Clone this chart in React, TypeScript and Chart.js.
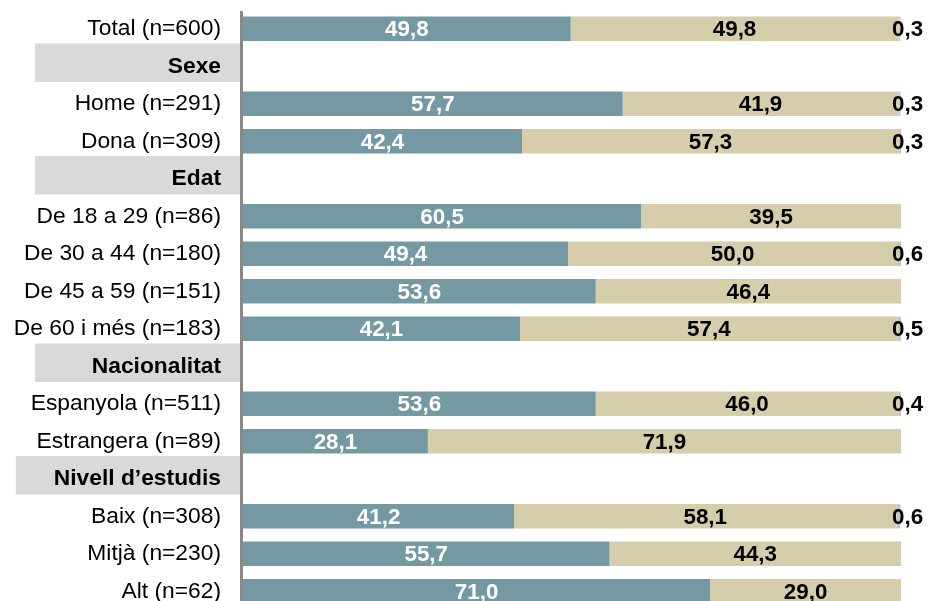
import React, { useEffect, useRef } from "react";
import { Chart, registerables } from "chart.js";

Chart.register(...registerables);

const categories = [
  "Total (n=600)",
  "Sexe",
  "Home (n=291)",
  "Dona (n=309)",
  "Edat",
  "De 18 a 29 (n=86)",
  "De 30 a 44 (n=180)",
  "De 45 a 59 (n=151)",
  "De 60 i més (n=183)",
  "Nacionalitat",
  "Espanyola (n=511)",
  "Estrangera (n=89)",
  "Nivell d\u2019estudis",
  "Baix (n=308)",
  "Mitjà (n=230)",
  "Alt (n=62)",
];

const headerRows = [1, 4, 9, 12];

const seriesA = [49.8, null, 57.7, 42.4, null, 60.5, 49.4, 53.6, 42.1, null, 53.6, 28.1, null, 41.2, 55.7, 71.0];
const seriesB = [49.8, null, 41.9, 57.3, null, 39.5, 50.0, 46.4, 57.4, null, 46.0, 71.9, null, 58.1, 44.3, 29.0];
const seriesC = [0.3, null, 0.3, 0.3, null, 0, 0.6, 0, 0.5, null, 0.4, 0, null, 0.6, 0, 0];

const FONT = "'Liberation Sans', Arial, sans-serif";
const LABEL_SIZE = 22.8;
const VALUE_SIZE = 22.4;
const fmt = (v: number) => v.toFixed(1).replace(".", ",");

const decorPlugin = {
  id: "decor",
  beforeDraw(chart: any) {
    const { ctx, scales } = chart;
    const y = scales.y;
    const step = y.getPixelForValue(1) - y.getPixelForValue(0);
    ctx.save();
    ctx.font = `bold ${LABEL_SIZE}px ${FONT}`;
    headerRows.forEach((i) => {
      const cy = y.getPixelForValue(i);
      const w = ctx.measureText(categories[i]).width;
      const textRight = chart.chartArea.left - 22;
      const left = Math.min(35, textRight - w - 38);
      ctx.fillStyle = "#d9d9d9";
      ctx.fillRect(left, cy - 3 - step / 2 - 1, 240 - left, step + 1);
    });
    ctx.restore();
  },
  afterDatasetsDraw(chart: any) {
    const { ctx, scales, chartArea } = chart;
    const x = scales.x;
    const y = scales.y;
    ctx.save();
    ctx.fillStyle = "#888888";
    ctx.fillRect(chartArea.left - 3, 11, 3, chartArea.bottom - 11);
    ctx.font = `bold ${VALUE_SIZE}px ${FONT}`;
    ctx.textBaseline = "middle";
    categories.forEach((_, i) => {
      const a = seriesA[i];
      const b = seriesB[i];
      const c = seriesC[i];
      if (a == null || b == null) return;
      const cy = y.getPixelForValue(i) + 1.5;
      const x0 = x.getPixelForValue(0);
      const x1 = x.getPixelForValue(a);
      const x2 = x.getPixelForValue(a + b);
      ctx.textAlign = "center";
      ctx.fillStyle = "#ffffff";
      ctx.fillText(fmt(a), (x0 + x1) / 2, cy);
      ctx.fillStyle = "#000000";
      ctx.fillText(fmt(b), (x1 + x2) / 2, cy);
      if (c != null && c > 0) {
        ctx.textAlign = "left";
        ctx.fillText(fmt(c), x.getPixelForValue(100) - 9, cy);
      }
    });
    ctx.restore();
  },
};

export default function App() {
  const ref = useRef<HTMLCanvasElement | null>(null);
  useEffect(() => {
    if (!ref.current) return;
    const chart = new Chart(ref.current, {
      type: "bar",
      data: {
        labels: categories,
        datasets: [
          { label: "A", data: seriesA, backgroundColor: "#7599a3", borderWidth: 0 },
          { label: "B", data: seriesB, backgroundColor: "#d6cdab", borderWidth: 0 },
          { label: "C", data: seriesC, backgroundColor: "#c4c4c4", borderWidth: 0 },
        ],
      },
      options: {
        indexAxis: "y",
        responsive: false,
        animation: false,
        maintainAspectRatio: false,
        layout: { padding: { top: 10, bottom: 0, left: 0, right: 27 } },
        datasets: { bar: { categoryPercentage: 1, barPercentage: 0.65 } },
        plugins: { legend: { display: false }, tooltip: { enabled: false } },
        scales: {
          x: { stacked: true, min: 0, max: 100, display: false },
          y: {
            stacked: true,
            grid: { display: false, drawTicks: false },
            border: { display: false },
            afterFit: (scale: any) => {
              scale.width = 243;
              scale.paddingTop = 0;
              scale.paddingBottom = 0;
            },
            ticks: {
              padding: 22,
              color: "#000000",
              autoSkip: false,
              font: (ctx: any) =>
                headerRows.includes(ctx.index)
                  ? { family: FONT, size: LABEL_SIZE, weight: "bold" }
                  : { family: FONT, size: LABEL_SIZE, weight: "normal" },
            },
          },
        },
      },
      plugins: [decorPlugin],
    } as any);
    return () => chart.destroy();
  }, []);
  return (
    <div style={{ position: "fixed", left: 0, top: 0, width: 928, height: 610, background: "#ffffff" }}>
      <canvas ref={ref} width={928} height={610} style={{ width: 928, height: 610 }} />
    </div>
  );
}
